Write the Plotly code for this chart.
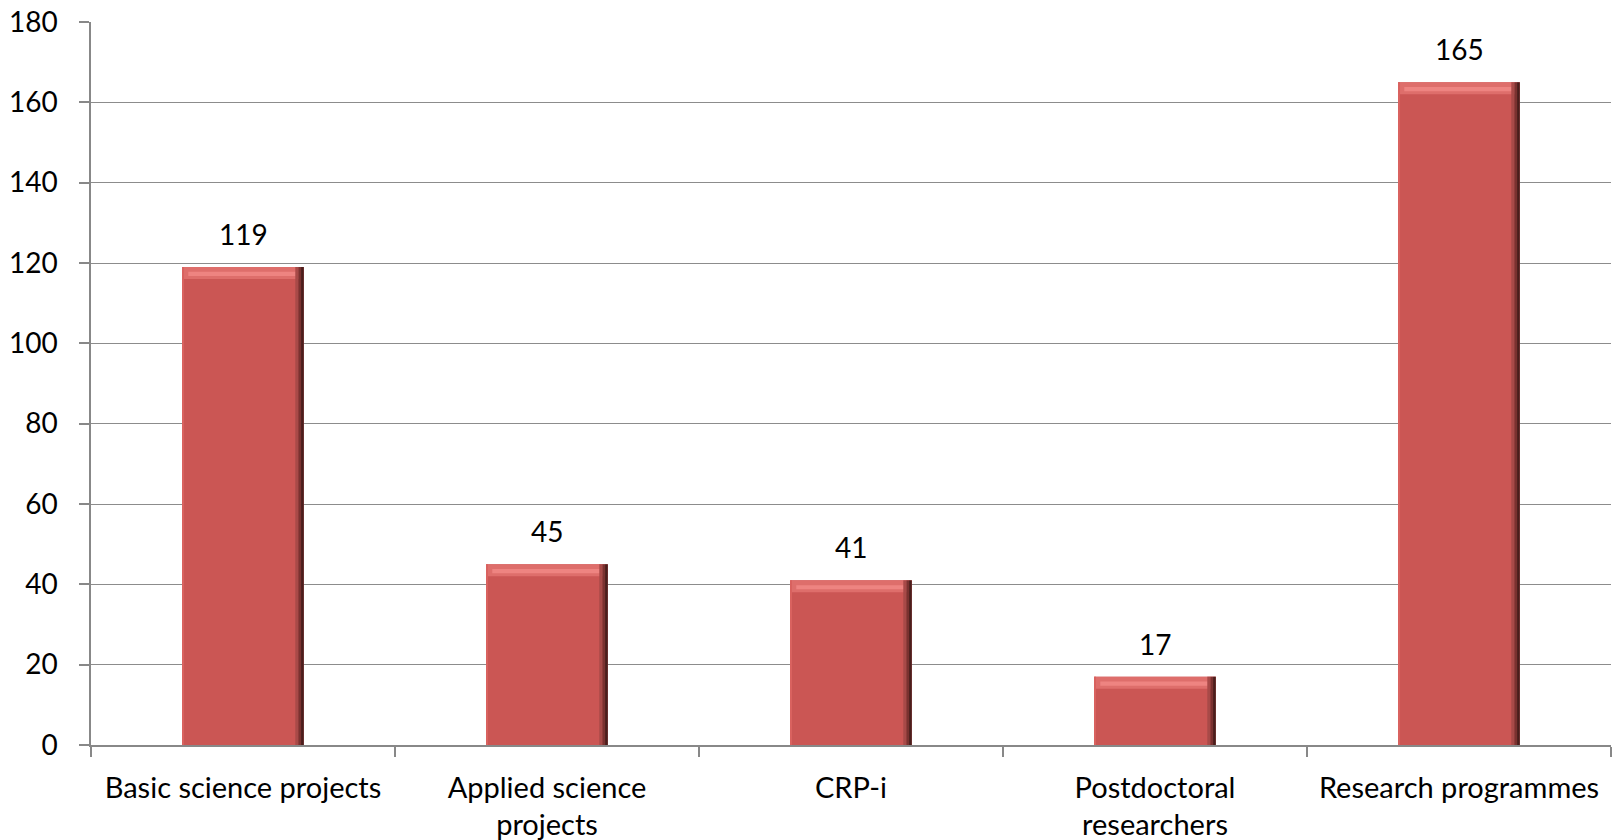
import plotly.graph_objects as go

categories = ["Basic science projects", "Applied science<br>projects", "CRP-i",
              "Postdoctoral<br>researchers", "Research programmes"]
values = [119, 45, 41, 17, 165]
y_ticks = [0, 20, 40, 60, 80, 100, 120, 140, 160, 180]

FONT = "Lato, 'Open Sans', sans-serif"
FS = 28
BAR_W = 0.4
BEVEL = 3.0  # data units for the top highlight band

fig = go.Figure()
# main bar body
fig.add_trace(go.Bar(
    x=categories, y=values, width=BAR_W, offset=-BAR_W / 2,
    marker=dict(color="#CB5654", line=dict(width=0)),
    hoverinfo="x+y",
))
# top bevel highlight
fig.add_trace(go.Bar(
    x=categories, y=[BEVEL] * len(values), base=[v - BEVEL for v in values],
    width=BAR_W, offset=-BAR_W / 2,
    marker=dict(color="#DE6E6B", line=dict(width=0)),
    hoverinfo="skip",
))
fig.add_trace(go.Bar(
    x=categories, y=[BEVEL * 0.35] * len(values), base=[v - BEVEL * 0.75 for v in values],
    width=BAR_W * 0.9, offset=-BAR_W * 0.45,
    marker=dict(color="#EE8481", line=dict(width=0)),
    hoverinfo="skip",
))
# right edge shading
for off, w, col in [(0.172, 0.010, "#A84A48"), (0.182, 0.009, "#7A3230"), (0.191, 0.009, "#4A1E1C")]:
    fig.add_trace(go.Bar(
        x=categories, y=values, width=w, offset=off,
        marker=dict(color=col, line=dict(width=0)),
        hoverinfo="skip",
    ))
# left edge light line
fig.add_trace(go.Bar(
    x=categories, y=values, width=0.006, offset=-BAR_W / 2,
    marker=dict(color="#D9625F", line=dict(width=0)),
    hoverinfo="skip",
))

for c, v in zip(categories, values):
    fig.add_annotation(x=c, y=v, text=str(v), showarrow=False,
                       yanchor="bottom", yshift=14,
                       font=dict(size=FS, family=FONT, color="#000000"))

fig.update_layout(
    width=1615, height=840,
    margin=dict(l=91, r=4, t=22, b=95),
    barmode="overlay",
    plot_bgcolor="white", paper_bgcolor="white",
    showlegend=False,
    font=dict(family=FONT, size=FS, color="#000000"),
)
fig.update_xaxes(
    type="category", automargin=False,
    showline=True, linecolor="#888888", linewidth=1.5,
    ticks="outside", tickson="boundaries", ticklen=10, tickcolor="#888888", tickwidth=1.5,
    tickfont=dict(size=29, family=FONT),
    ticklabelstandoff=16, ticklabeloverflow="allow",
    showgrid=False,
)
fig.update_yaxes(
    range=[0, 180], tickvals=y_ticks, automargin=False,
    showline=True, linecolor="#888888", linewidth=1.5,
    ticks="outside", ticklen=10, tickcolor="#888888", tickwidth=1.5,
    showgrid=True, gridcolor="#8C8C8C", gridwidth=1.2,
    tickfont=dict(size=FS, family=FONT),
    ticklabelstandoff=16, ticklabeloverflow="allow",
    zeroline=False,
)

fig.write_html("out.html", config={"displayModeBar": False},
               post_script="document.body.style.margin='0';")
